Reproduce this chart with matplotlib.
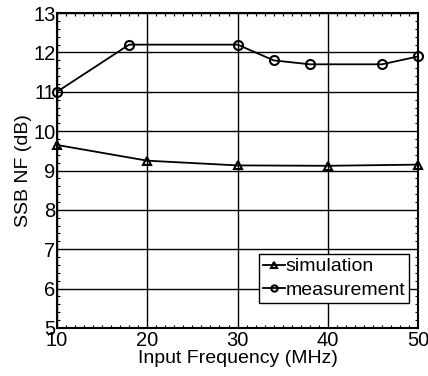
import numpy as np
import matplotlib as mpl
mpl.use('Agg')
import matplotlib.pyplot as plt
from matplotlib.ticker import MultipleLocator

plt.rcParams['font.family'] = ['Liberation Sans', 'DejaVu Sans']

sim_freq = [10, 20, 30, 40, 50]
sim_nf = [9.65, 9.25, 9.13, 9.12, 9.15]
meas_freq = [10, 18, 30, 34, 38, 46, 50]
meas_nf = [11.0, 12.2, 12.2, 11.8, 11.7, 11.7, 11.9]
x_ticks = [10, 20, 30, 40, 50]
y_ticks = [5, 6, 7, 8, 9, 10, 11, 12, 13]

fig = plt.figure(figsize=(4.28, 3.76), dpi=100)
ax = fig.add_axes([0.133, 0.128, 0.844, 0.837])

ax.plot(sim_freq, sim_nf, color='k', lw=1.3, marker='^', ms=6, mfc='none', mew=1.5,
        label='simulation', clip_on=False, zorder=3)
ax.plot(meas_freq, meas_nf, color='k', lw=1.3, marker='o', ms=6.5, mfc='none', mew=1.5,
        label='measurement', clip_on=False, zorder=3)

ax.set_xlim(10, 50)
ax.set_ylim(5, 13)
ax.set_xticks(x_ticks, [str(v) for v in x_ticks])
ax.set_yticks(y_ticks, [str(v) for v in y_ticks])
ax.xaxis.set_minor_locator(MultipleLocator(1))
ax.yaxis.set_minor_locator(MultipleLocator(0.2))
ax.grid(True, which='major', color='k', lw=1.0)
ax.tick_params(direction='in', which='both', top=True, right=True, labelsize=14.5)
ax.tick_params(axis='x', pad=2)
ax.tick_params(axis='y', pad=1)
ax.tick_params(which='major', length=0)
ax.tick_params(which='minor', length=2, width=0.8)
for s in ax.spines.values():
    s.set_linewidth(1.5)

ax.set_xlabel('Input Frequency (MHz)', fontsize=14, labelpad=0)
ax.set_ylabel('SSB NF (dB)', fontsize=14, labelpad=1)

leg = ax.legend(loc='lower right', bbox_to_anchor=(0.975, 0.08), fontsize=14, frameon=True,
                fancybox=False, edgecolor='k', framealpha=1, handlelength=1.1,
                handletextpad=0.05, borderpad=0.2, labelspacing=0.3, borderaxespad=0)
leg.get_frame().set_linewidth(1.0)
for h in leg.legend_handles:
    h.set_markersize(4.5)

fig.savefig('out.png', dpi=100)
